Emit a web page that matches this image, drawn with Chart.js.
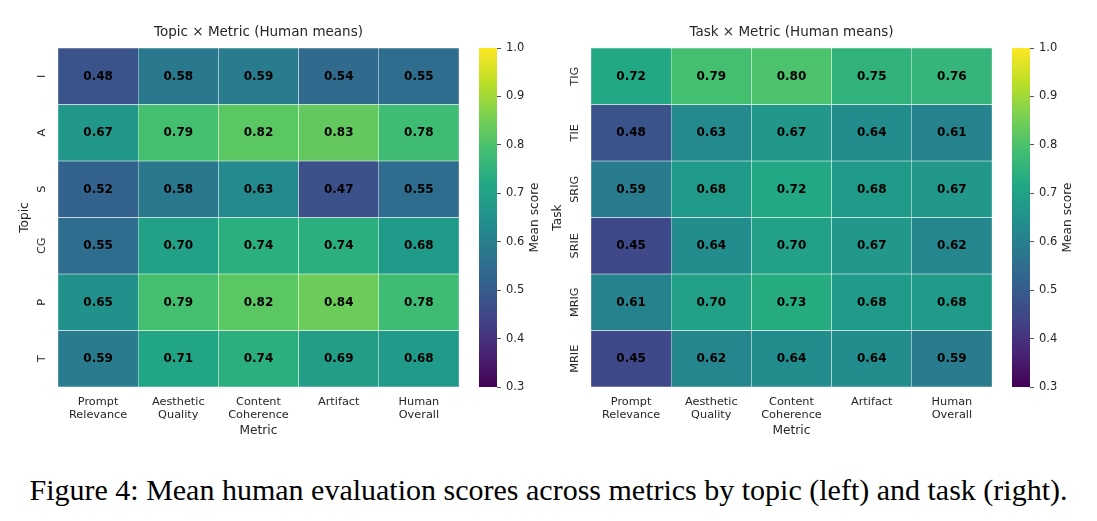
<!DOCTYPE html>
<html>
<head>
<meta charset="utf-8">
<script src="https://cdn.jsdelivr.net/npm/chart.js@4.4.1/dist/chart.umd.min.js"></script>
<style>
  html, body { margin: 0; padding: 0; background: #fff; width: 1097px; height: 521px; overflow: hidden; }
  canvas { position: absolute; top: 0; }
  #caption {
    position: absolute; left: 0; top: 473px; width: 1097px;
    text-align: center; white-space: nowrap;
    font-family: 'Liberation Serif', serif; font-size: 30px; line-height: 34px; color: #000;
  }
</style>
</head>
<body>
<canvas id="topicMap" width="470" height="450" style="left:0px"></canvas>
<canvas id="topicBar" width="80" height="450" style="left:479px"></canvas>
<canvas id="taskMap" width="470" height="450" style="left:533px"></canvas>
<canvas id="taskBar" width="80" height="450" style="left:1012px"></canvas>
<div id="caption">Figure 4: Mean human evaluation scores across metrics by topic (left) and task (right).</div>

<script>
// data
const metricLabels = [['Prompt', 'Relevance'], ['Aesthetic', 'Quality'], ['Content', 'Coherence'], ['Artifact'], ['Human', 'Overall']];

const topicLabels = ['I', 'A', 'S', 'CG', 'P', 'T'];
const topicScores = [
  [0.48, 0.58, 0.59, 0.54, 0.55],
  [0.67, 0.79, 0.82, 0.83, 0.78],
  [0.52, 0.58, 0.63, 0.47, 0.55],
  [0.55, 0.70, 0.74, 0.74, 0.68],
  [0.65, 0.79, 0.82, 0.84, 0.78],
  [0.59, 0.71, 0.74, 0.69, 0.68]
];

const taskLabels = ['TIG', 'TIE', 'SRIG', 'SRIE', 'MRIG', 'MRIE'];
const taskScores = [
  [0.72, 0.79, 0.80, 0.75, 0.76],
  [0.48, 0.63, 0.67, 0.64, 0.61],
  [0.59, 0.68, 0.72, 0.68, 0.67],
  [0.45, 0.64, 0.70, 0.67, 0.62],
  [0.61, 0.70, 0.73, 0.68, 0.68],
  [0.45, 0.62, 0.64, 0.64, 0.59]
];

const colorbarTicks = [0.3, 0.4, 0.5, 0.6, 0.7, 0.8, 0.9, 1.0];
const vmin = 0.3, vmax = 1.0;

Chart.defaults.font.family = 'DejaVu Sans';
Chart.defaults.color = '#262626';

const viridisStops = ['#440154', '#482475', '#414487', '#355f8d', '#2a788e', '#21918c',
                      '#22a884', '#44bf70', '#7ad151', '#bddf26', '#fde725'];

function hexToRgb(h) {
  return [parseInt(h.slice(1, 3), 16), parseInt(h.slice(3, 5), 16), parseInt(h.slice(5, 7), 16)];
}

function viridis(v) {
  let t = (v - vmin) / (vmax - vmin);
  t = Math.max(0, Math.min(1, t));
  const p = t * (viridisStops.length - 1);
  const i = Math.min(Math.floor(p), viridisStops.length - 2);
  const f = p - i;
  const a = hexToRgb(viridisStops[i]), b = hexToRgb(viridisStops[i + 1]);
  const c = a.map((x, k) => Math.round(x + (b[k] - x) * f));
  return `rgb(${c[0]}, ${c[1]}, ${c[2]})`;
}

// draws rotated row labels and the number in each cell
const cellTextPlugin = {
  id: 'cellText',
  afterDatasetsDraw(chart, args, opts) {
    const { ctx, chartArea, scales } = chart;
    ctx.save();
    ctx.textAlign = 'center';
    ctx.textBaseline = 'middle';
    ctx.fillStyle = '#000';
    ctx.font = 'bold 12px "DejaVu Sans"';
    opts.rows.forEach((row, i) => {
      row.forEach((v, j) => {
        ctx.fillText(v.toFixed(2), scales.x.getPixelForValue(j), scales.y.getPixelForValue(i + 0.5) + 0.5);
      });
    });
    ctx.fillStyle = '#262626';
    ctx.font = '11.3px "DejaVu Sans"';
    opts.labels.forEach((lab, i) => {
      ctx.save();
      ctx.translate(chartArea.left - 15.5, scales.y.getPixelForValue(i + 0.5));
      ctx.rotate(-Math.PI / 2);
      ctx.fillText(lab, 0, 0);
      ctx.restore();
    });
    ctx.restore();
  }
};

function makeHeatmap(id, title, rowLabels, rows, yTitle) {
  const datasets = rows.map((row, i) => ({
    label: rowLabels[i],
    data: row.map(() => 1),
    backgroundColor: row.map(v => viridis(v)),
    borderColor: 'rgba(255, 255, 255, 0.75)',
    borderWidth: 0.5,
    borderSkipped: false,
    barPercentage: 1,
    categoryPercentage: 1
  }));

  return new Chart(document.getElementById(id), {
    type: 'bar',
    data: { labels: metricLabels, datasets: datasets },
    plugins: [cellTextPlugin],
    options: {
      responsive: false,
      animation: false,
      layout: { padding: { left: 0, top: 0, right: 11, bottom: 0 } },
      plugins: {
        legend: { display: false },
        tooltip: { enabled: false },
        title: {
          display: true,
          text: title,
          fullSize: false,
          color: '#262626',
          font: { size: 13.5, weight: 'normal' },
          padding: { top: 24.5, bottom: 7.3 }
        },
        cellText: { rows: rows, labels: rowLabels }
      },
      scales: {
        x: {
          stacked: true,
          grid: { display: false, drawTicks: false },
          border: { display: false },
          ticks: { font: { size: 11.3 }, padding: 8, maxRotation: 0 },
          title: { display: true, text: 'Metric', font: { size: 12.2 }, padding: { top: 0, bottom: 12 } },
          afterFit(scale) { scale.height = 63; }
        },
        y: {
          stacked: true,
          reverse: true,
          min: 0,
          max: rows.length,
          grid: { display: false, drawTicks: false },
          border: { display: false },
          ticks: { display: false },
          title: { display: true, text: yTitle, font: { size: 12.2 }, padding: { top: 17.7, bottom: 0 } },
          afterFit(scale) { scale.width = 58; }
        }
      }
    }
  });
}

const colorbarLabelPlugin = {
  id: 'colorbarLabel',
  afterDraw(chart) {
    const { ctx, chartArea } = chart;
    ctx.save();
    ctx.fillStyle = '#262626';
    ctx.font = '12.2px "DejaVu Sans"';
    ctx.textAlign = 'center';
    ctx.textBaseline = 'middle';
    ctx.translate(chartArea.right + 37.5, (chartArea.top + chartArea.bottom) / 2);
    ctx.rotate(-Math.PI / 2);
    ctx.fillText('Mean score', 0, 0);
    ctx.restore();
  }
};

function makeColorbar(id) {
  return new Chart(document.getElementById(id), {
    type: 'bar',
    data: {
      labels: [''],
      datasets: [{
        data: [[vmin, vmax]],
        backgroundColor(context) {
          const area = context.chart.chartArea;
          if (!area) return viridisStops[0];
          const g = context.chart.ctx.createLinearGradient(0, area.bottom, 0, area.top);
          viridisStops.forEach((c, i) => g.addColorStop(i / (viridisStops.length - 1), c));
          return g;
        },
        borderWidth: 0,
        barPercentage: 1,
        categoryPercentage: 1
      }]
    },
    plugins: [colorbarLabelPlugin],
    options: {
      responsive: false,
      animation: false,
      layout: { padding: { left: 0, top: 48, right: 0, bottom: 63 } },
      plugins: { legend: { display: false }, tooltip: { enabled: false } },
      scales: {
        x: { display: false },
        y: {
          position: 'right',
          min: vmin,
          max: vmax,
          afterBuildTicks(scale) { scale.ticks = colorbarTicks.map(v => ({ value: v })); },
          grid: { display: true, drawOnChartArea: false, drawTicks: true, tickLength: 4, color: '#262626', lineWidth: 0.8 },
          border: { display: false },
          ticks: { font: { size: 11.5 }, padding: 5, callback: v => Number(v).toFixed(1) },
          afterFit(scale) { scale.width = 62; }
        }
      }
    }
  });
}

makeHeatmap('topicMap', 'Topic \u00d7 Metric (Human means)', topicLabels, topicScores, 'Topic');
makeColorbar('topicBar');
makeHeatmap('taskMap', 'Task \u00d7 Metric (Human means)', taskLabels, taskScores, 'Task');
makeColorbar('taskBar');
</script>
</body>
</html>
